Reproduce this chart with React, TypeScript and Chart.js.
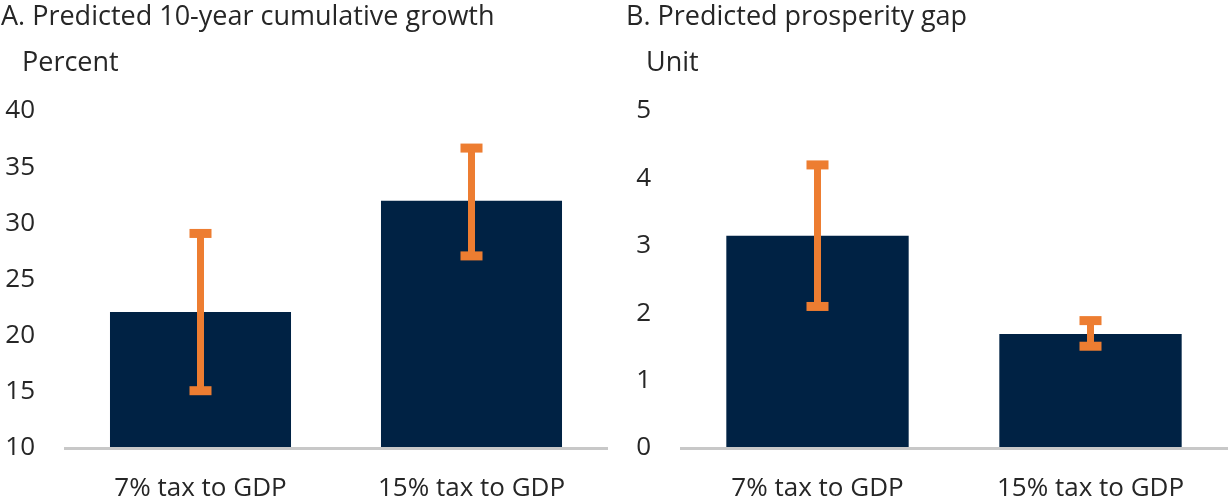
import { useEffect, useRef } from 'react';
import { Chart, registerables } from 'chart.js';

Chart.register(...registerables);

// Scenario categories shared by both panels
const categories = ['7% tax to GDP', '15% tax to GDP'];

// Panel A: predicted 10-year cumulative growth (percent)
const growthValues = [22.1, 32.0];
const growthLow = [15.1, 27.1];
const growthHigh = [29.1, 36.7];
const growthTicks = [10, 15, 20, 25, 30, 35, 40];

// Panel B: predicted prosperity gap (unit)
const gapValues = [3.15, 1.69];
const gapLow = [2.1, 1.51];
const gapHigh = [4.2, 1.89];
const gapTicks = [0, 1, 2, 3, 4, 5];

const FONT = '"Open Sans", "Noto Sans", sans-serif';
const FONT_SIZE = 26;
const HEADING_SIZE = 27;
const TEXT = '#262626';
const BAR = '#002244';
const WHISKER = '#ED7D31';

type PanelProps = {
  title: string;
  unit: string;
  values: number[];
  low: number[];
  high: number[];
  ticks: number[];
  titleX: number;
  unitX: number;
  axisWidth: number;
  padRight: number;
};

// Draws the orange interval whiskers on top of the bars
const whiskerPlugin = {
  id: 'whiskers',
  afterDatasetsDraw(chart: any, _args: any, opts: any) {
    const { ctx } = chart;
    const y = chart.scales.y;
    const meta = chart.getDatasetMeta(0);
    ctx.save();
    ctx.fillStyle = WHISKER;
    meta.data.forEach((bar: any, i: number) => {
      const x = bar.x;
      const top = y.getPixelForValue(opts.high[i]);
      const bottom = y.getPixelForValue(opts.low[i]);
      ctx.fillRect(x - 3.5, top, 7, bottom - top);
      ctx.fillRect(x - 11, top - 4.5, 22, 9);
      ctx.fillRect(x - 11, bottom - 4.5, 22, 9);
    });
    ctx.restore();
  },
};

// Panel title and unit caption above the plot
const headingPlugin = {
  id: 'heading',
  afterDraw(chart: any, _args: any, opts: any) {
    const { ctx } = chart;
    ctx.save();
    ctx.fillStyle = TEXT;
    ctx.textBaseline = 'alphabetic';
    ctx.textAlign = 'left';
    ctx.font = `${HEADING_SIZE}px ${FONT}`;
    ctx.fillText(opts.title, opts.titleX, 25);
    ctx.fillText(opts.unit, opts.unitX, 71);
    ctx.restore();
  },
};

function Panel(props: PanelProps) {
  const ref = useRef<HTMLCanvasElement>(null);
  useEffect(() => {
    if (!ref.current) return;
    const min = props.ticks[0];
    const max = props.ticks[props.ticks.length - 1];
    const chart = new Chart(ref.current, {
      type: 'bar',
      data: {
        labels: categories,
        datasets: [
          {
            data: props.values,
            backgroundColor: BAR,
            borderWidth: 0,
            categoryPercentage: 1,
            barPercentage: 0.668,
          },
        ],
      },
      options: {
        responsive: false,
        animation: false,
        layout: { padding: { top: 111, left: 0, right: props.padRight, bottom: 0 } },
        plugins: {
          legend: { display: false },
          tooltip: { enabled: false },
          title: { display: false },
          whiskers: { low: props.low, high: props.high },
          heading: { title: props.title, unit: props.unit, titleX: props.titleX, unitX: props.unitX },
        } as any,
        scales: {
          x: {
            grid: { display: false, drawTicks: false },
            border: { display: true, color: '#C8C8C8', width: 3, z: 1 } as any,
            ticks: { color: TEXT, font: { family: FONT, size: FONT_SIZE }, padding: 25 },
            afterFit: (s: any) => {
              s.height = 52;
            },
          },
          y: {
            min,
            max,
            grid: { display: false, drawTicks: false },
            border: { display: false },
            ticks: {
              stepSize: props.ticks[1] - props.ticks[0],
              color: TEXT,
              font: { family: FONT, size: FONT_SIZE },
              padding: 30,
            },
            afterFit: (s: any) => {
              s.width = props.axisWidth;
            },
          },
        },
      },
      plugins: [whiskerPlugin, headingPlugin],
    });
    return () => chart.destroy();
  }, []);
  return <canvas ref={ref} width={614} height={500} style={{ display: 'block' }} />;
}

export default function App() {
  return (
    <div style={{ position: 'absolute', left: 0, top: 0, width: 1228, height: 500, display: 'flex', background: '#fff' }}>
      <Panel
        title="A. Predicted 10-year cumulative growth"
        unit="Percent"
        values={growthValues}
        low={growthLow}
        high={growthHigh}
        ticks={growthTicks}
        titleX={1}
        unitX={22}
        axisWidth={65}
        padRight={7}
      />
      <Panel
        title="B. Predicted prosperity gap"
        unit="Unit"
        values={gapValues}
        low={gapLow}
        high={gapHigh}
        ticks={gapTicks}
        titleX={12}
        unitX={32}
        axisWidth={67}
        padRight={1}
      />
    </div>
  );
}
